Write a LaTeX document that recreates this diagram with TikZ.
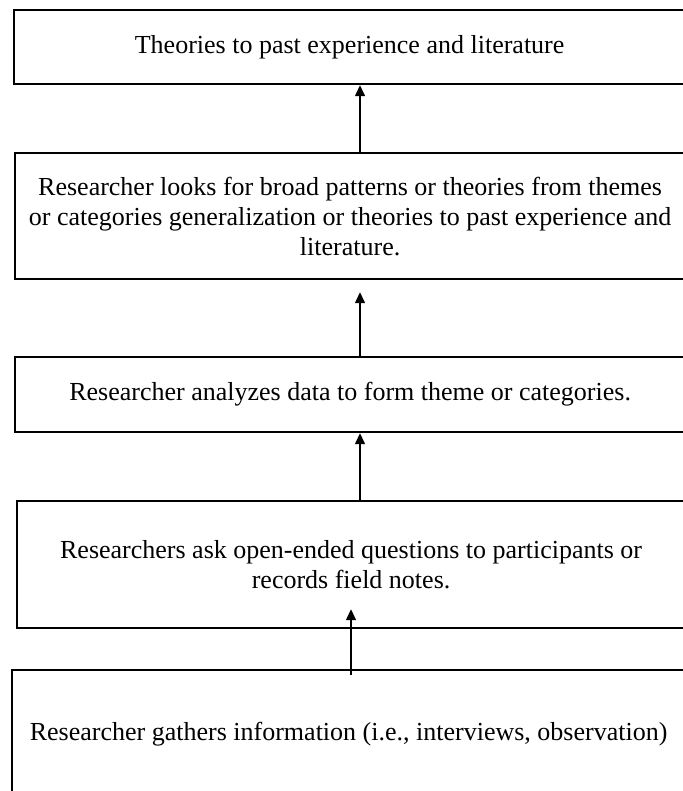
\documentclass[tikz,border=0pt]{standalone}
\usepackage{fontspec}
\setmainfont{Liberation Serif}
\usetikzlibrary{arrows.meta}
\begin{document}
\begin{tikzpicture}[x=1pt,y=-1pt,
  box/.style={draw=black, line width=2.2pt, rectangle, inner sep=0pt, anchor=north west, align=center, font=\fontsize{26}{30}\selectfont},
  arr/.style={line width=1.4pt, -{Triangle[length=11pt,width=10pt]}}]
\useasboundingbox (0,0) rectangle (682,791);
\node[box, minimum width=671pt, minimum height=74pt] (b1) at (13,9) {Theories to past experience and literature};
\node[box, minimum width=670pt, minimum height=126pt] (b2) at (14,152) {Researcher looks for broad patterns or theories from themes\\or categories generalization or theories to past experience and\\literature.};
\node[box, minimum width=670pt, minimum height=75pt] (b3) at (14,356) {Researcher analyzes data to form theme or categories.};
\node[box, minimum width=668pt, minimum height=127pt] (b4) at (16,500) {Researchers ask open-ended questions to participants or\\records field notes.};
\node[box, minimum width=673pt, minimum height=128pt] (b5) at (11,669) {Researcher gathers information (i.e., interviews, observation)};
\coordinate (xa) at (360,0);
\coordinate (xb) at (351,0);
\coordinate (t2) at ([yshift=-12pt]b2.south);
\coordinate (s4) at ([yshift=-6pt]b5.north);
\coordinate (t4) at ([yshift=20pt]b4.south);
\draw[arr] (b2.north -| xa) -- (b1.south -| xa);
\draw[arr] (b3.north -| xa) -- (t2 -| xa);
\draw[arr] (b4.north -| xa) -- (b3.south -| xa);
\draw[arr] (s4 -| xb) -- (t4 -| xb);
\end{tikzpicture}
\end{document}
